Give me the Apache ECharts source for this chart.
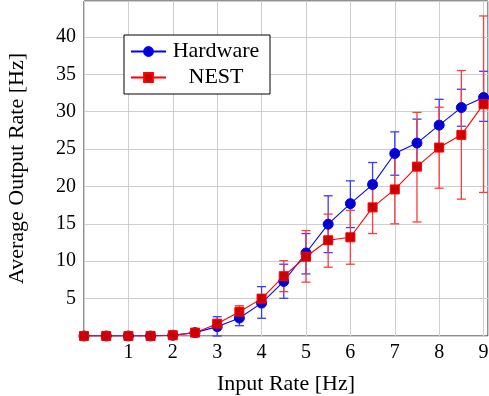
<!DOCTYPE html>
<html><head><meta charset="utf-8">
<script src="https://cdn.jsdelivr.net/npm/echarts@6/dist/echarts.min.js"></script>
<style>html,body{margin:0;padding:0;background:#fff}#c{width:489px;height:396px}</style>
</head><body><div id="c"></div>
<script>
const inputRate    = [0, 0.5, 1, 1.5, 2, 2.5, 3, 3.5, 4, 4.5, 5, 5.5, 6, 6.5, 7, 7.5, 8, 8.5, 9];
const hardware     = [0, 0, 0, 0, 0.1, 0.45, 1.25, 2.4, 4.4, 7.3, 11.1, 14.95, 17.7, 20.25, 24.4, 25.8, 28.2, 30.55, 31.9];
const hardwareLow  = [0, 0, 0, 0, 0.1, 0.45, 0, 1.38, 2.37, 5.04, 8.3, 11.15, 14.5, 17.3, 21.5, 22.6, 24.75, 28.05, 28.7];
const hardwareHigh = [0, 0, 0, 0, 0.1, 0.45, 2.58, 3.45, 6.6, 9.6, 13.7, 18.75, 20.75, 23.2, 27.3, 29.0, 31.65, 33.0, 35.4];
const nest         = [0, 0, 0, 0, 0.1, 0.45, 1.65, 3.25, 5.0, 8.0, 10.6, 12.8, 13.2, 17.2, 19.6, 22.65, 25.2, 26.9, 31.0];
const nestLow      = [0, 0, 0, 0, 0.1, 0.45, 1.3, 2.45, 4.5, 5.93, 7.2, 9.2, 9.6, 13.7, 15.0, 15.25, 19.76, 18.3, 19.2];
const nestHigh     = [0, 0, 0, 0, 0.1, 0.45, 1.95, 4.05, 5.5, 10.07, 14.1, 16.3, 16.8, 20.7, 24.2, 29.9, 30.6, 35.5, 42.8];
const xTickLabels  = [1, 2, 3, 4, 5, 6, 7, 8, 9];
const yTickLabels  = [5, 10, 15, 20, 25, 30, 35, 40];

const FONT = 'Liberation Serif';
const chart = echarts.init(document.getElementById('c'), null, {renderer: 'canvas'});

function pts(ys) { return inputRate.map((x, i) => [x, ys[i]]); }
function errs(lo, hi) {
  const out = [];
  inputRate.forEach((x, i) => { if (hi[i] !== lo[i]) out.push([x, lo[i], hi[i]]); });
  return out;
}
function errRender(color) {
  return function (params, api) {
    const x = api.value(0), lo = api.value(1), hi = api.value(2);
    const a = api.coord([x, lo]), b = api.coord([x, hi]);
    const w = 4.5;
    const style = {stroke: color, lineWidth: 1.3, fill: null};
    return {type: 'group', children: [
      {type: 'line', shape: {x1: a[0], y1: a[1], x2: b[0], y2: b[1]}, style: style},
      {type: 'line', shape: {x1: a[0] - w, y1: a[1], x2: a[0] + w, y2: a[1]}, style: style},
      {type: 'line', shape: {x1: b[0] - w, y1: b[1], x2: b[0] + w, y2: b[1]}, style: style}
    ]};
  };
}

const labelStyle = {fontFamily: FONT, fontSize: 20, color: '#000'};

chart.setOption({
  animation: false,
  backgroundColor: '#fff',
  grid: {left: 84, right: 1, top: 1, bottom: 60, containLabel: false, outerBoundsMode: 'none',
         show: true, borderColor: '#222', borderWidth: 1, backgroundColor: 'transparent'},
  xAxis: {
    type: 'value', min: 0, max: 9.1, interval: 1,
    name: 'Input Rate [Hz]', nameLocation: 'middle', nameGap: 37,
    nameTextStyle: {fontFamily: FONT, fontSize: 22, color: '#000'},
    axisLine: {show: false}, axisTick: {show: false},
    axisLabel: Object.assign({margin: 7, formatter: v => xTickLabels.indexOf(v) >= 0 ? String(v) : ''}, labelStyle),
    splitLine: {show: true, lineStyle: {color: '#cfcfcf', width: 1}}
  },
  yAxis: {
    type: 'value', min: 0, max: 44.8, interval: 5,
    name: 'Average Output Rate [Hz]', nameLocation: 'middle', nameGap: 56,
    nameTextStyle: {fontFamily: FONT, fontSize: 22, color: '#000'},
    axisLine: {show: false}, axisTick: {show: false},
    axisLabel: Object.assign({margin: 8, formatter: v => yTickLabels.indexOf(v) >= 0 ? String(v) : ''}, labelStyle),
    splitLine: {show: true, lineStyle: {color: '#cfcfcf', width: 1}}
  },
  legend: {
    data: ['Hardware', 'NEST'],
    orient: 'vertical', left: 124, top: 35,
    padding: [4, 9, 4, 6], itemGap: 1,
    itemWidth: 35, itemHeight: 11,
    backgroundColor: '#fff', borderColor: '#000', borderWidth: 1, borderRadius: 0,
    formatter: n => '{t|' + n + '}',
    textStyle: {rich: {t: {width: 90, height: 25, align: 'center', fontFamily: FONT, fontSize: 22, lineHeight: 25, color: '#000'}}}
  },
  series: [
    {type: 'custom', name: 'hwErr', data: errs(hardwareLow, hardwareHigh), renderItem: errRender('#3a3aff'), encode: {x: 0, y: [1, 2]}, silent: true},
    {type: 'line', name: 'Hardware', data: pts(hardware), symbol: 'circle', symbolSize: 10,
      lineStyle: {color: '#0000ff', width: 1.1}, itemStyle: {color: '#0000cc', borderColor: '#0000ff', borderWidth: 1}},
    {type: 'custom', name: 'nestErr', data: errs(nestLow, nestHigh), renderItem: errRender('#ff3a3a'), encode: {x: 0, y: [1, 2]}, silent: true},
    {type: 'line', name: 'NEST', data: pts(nest), symbol: 'rect', symbolSize: 9,
      lineStyle: {color: '#ff0000', width: 1.1}, itemStyle: {color: '#cc0000', borderColor: '#ff0000', borderWidth: 1}}
  ]
});
</script></body></html>
